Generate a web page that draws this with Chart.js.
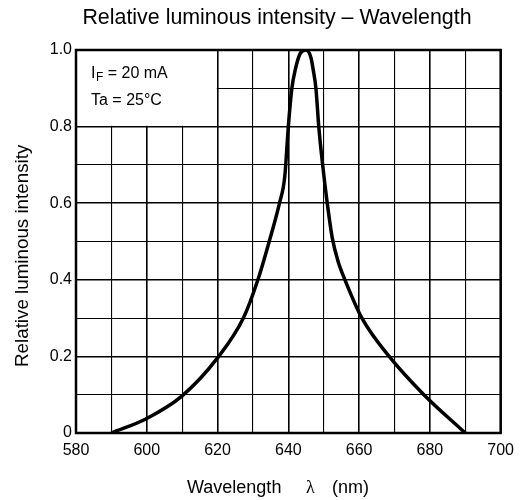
<!DOCTYPE html>
<html>
<head>
<meta charset="utf-8">
<script src="https://cdn.jsdelivr.net/npm/chart.js@4"></script>
<style>
  html, body { margin: 0; padding: 0; background: #fff; }
  #wrap { width: 522px; height: 500px; }
</style>
</head>
<body>
<div id="wrap"><canvas id="chart" width="522" height="500"></canvas></div>
<script>
// values
const wavelengths = [590, 600, 610, 620, 627.3, 631.4, 634.6, 637.5, 639, 640, 641, 642, 643.3, 645,
                     646.4, 647, 647.8, 648.6, 649.7, 651, 652.4, 654, 656, 660.8, 668.5, 678.3, 690];
const intensity   = [0, 0.038, 0.097, 0.196, 0.3, 0.4, 0.5, 0.6, 0.67, 0.8, 0.9, 0.95, 0.99, 1.0,
                     0.98, 0.95, 0.9, 0.8, 0.7, 0.6, 0.51, 0.45, 0.4, 0.3, 0.2, 0.1, 0];
const conditions = ['20 mA', '25°C'];

const FONT = '"Liberation Sans", Arial, sans-serif';

// title, axis titles, condition box and frame
const decorations = {
    id: 'decorations',
    beforeDatasetsDraw(chart) {
        const { ctx, chartArea: a, scales } = chart;
        const bx = scales.x.getPixelForValue(620);
        const by = scales.y.getPixelForValue(0.8);
        ctx.save();
        ctx.fillStyle = '#fff';
        ctx.fillRect(a.left, a.top, bx - a.left - 0.8, by - a.top - 0.8);

        ctx.fillStyle = '#000';
        ctx.textBaseline = 'alphabetic';
        ctx.textAlign = 'left';
        ctx.font = '16px ' + FONT;
        let x = a.left + 15;
        ctx.fillText('I', x, 78);
        x += ctx.measureText('I').width + 0.5;
        ctx.font = '12px ' + FONT;
        ctx.fillText('F', x, 81);
        x += ctx.measureText('F').width;
        ctx.font = '16px ' + FONT;
        ctx.fillText(' = ' + conditions[0], x, 78);
        ctx.fillText('Ta = ' + conditions[1], a.left + 15, 105);
        ctx.restore();
    },
    afterDatasetsDraw(chart) {
        const { ctx, chartArea: a } = chart;
        ctx.save();
        ctx.strokeStyle = '#000';
        ctx.lineWidth = 2.5;
        ctx.strokeRect(a.left, a.top, a.right - a.left, a.bottom - a.top);
        ctx.restore();
    },
    afterDraw(chart) {
        const ctx = chart.ctx;
        ctx.save();
        ctx.fillStyle = '#000';
        ctx.textBaseline = 'alphabetic';

        ctx.font = '21.4px ' + FONT;
        ctx.textAlign = 'center';
        ctx.fillText('Relative luminous intensity \u2013 Wavelength', 277, 24);

        ctx.font = '18px ' + FONT;
        ctx.textAlign = 'left';
        ctx.fillText('Wavelength', 187, 493);
        ctx.font = '18px "Liberation Serif", "DejaVu Serif", serif';
        ctx.fillText('\u03bb', 306, 493);
        ctx.font = '18px ' + FONT;
        ctx.fillText('(nm)', 332, 493);

        ctx.font = '18.8px ' + FONT;
        ctx.translate(28, 367);
        ctx.rotate(-Math.PI / 2);
        ctx.fillText('Relative luminous intensity', 0, 0);
        ctx.restore();
    }
};

new Chart(document.getElementById('chart'), {
    type: 'line',
    data: {
        datasets: [{
            data: wavelengths.map((w, i) => ({ x: w, y: intensity[i] })),
            borderColor: '#000',
            borderWidth: 3.5,
            pointRadius: 0,
            fill: false,
            cubicInterpolationMode: 'monotone'
        }]
    },
    options: {
        responsive: false,
        animation: false,
        layout: { padding: { left: 0, top: 50, right: 20, bottom: 0 } },
        plugins: { legend: { display: false }, title: { display: false }, tooltip: { enabled: false } },
        scales: {
            x: {
                type: 'linear',
                min: 580,
                max: 700,
                border: { display: false },
                grid: {
                    color: '#000',
                    drawTicks: false,
                    lineWidth: c => (c.tick && c.tick.value % 20 === 0) ? 1.6 : 1.1
                },
                ticks: {
                    stepSize: 10,
                    padding: 8,
                    color: '#000',
                    font: { family: FONT, size: 16 },
                    maxRotation: 0,
                    autoSkip: false,
                    callback: v => v % 20 === 0 ? String(v) : ''
                },
                afterFit: s => { s.height = 67; }
            },
            y: {
                min: 0,
                max: 1,
                border: { display: false },
                grid: {
                    color: '#000',
                    drawTicks: false,
                    lineWidth: c => (c.tick && Math.round(c.tick.value * 10) % 2 === 0) ? 1.6 : 1.1
                },
                ticks: {
                    stepSize: 0.1,
                    padding: 4,
                    color: '#000',
                    font: { family: FONT, size: 16 },
                    autoSkip: false,
                    callback: v => {
                        const k = Math.round(v * 10);
                        if (k % 2 !== 0) return '';
                        return k === 0 ? '0' : (k / 10).toFixed(1);
                    }
                },
                afterFit: s => { s.width = 76; }
            }
        }
    },
    plugins: [decorations]
});
</script>
</body>
</html>
